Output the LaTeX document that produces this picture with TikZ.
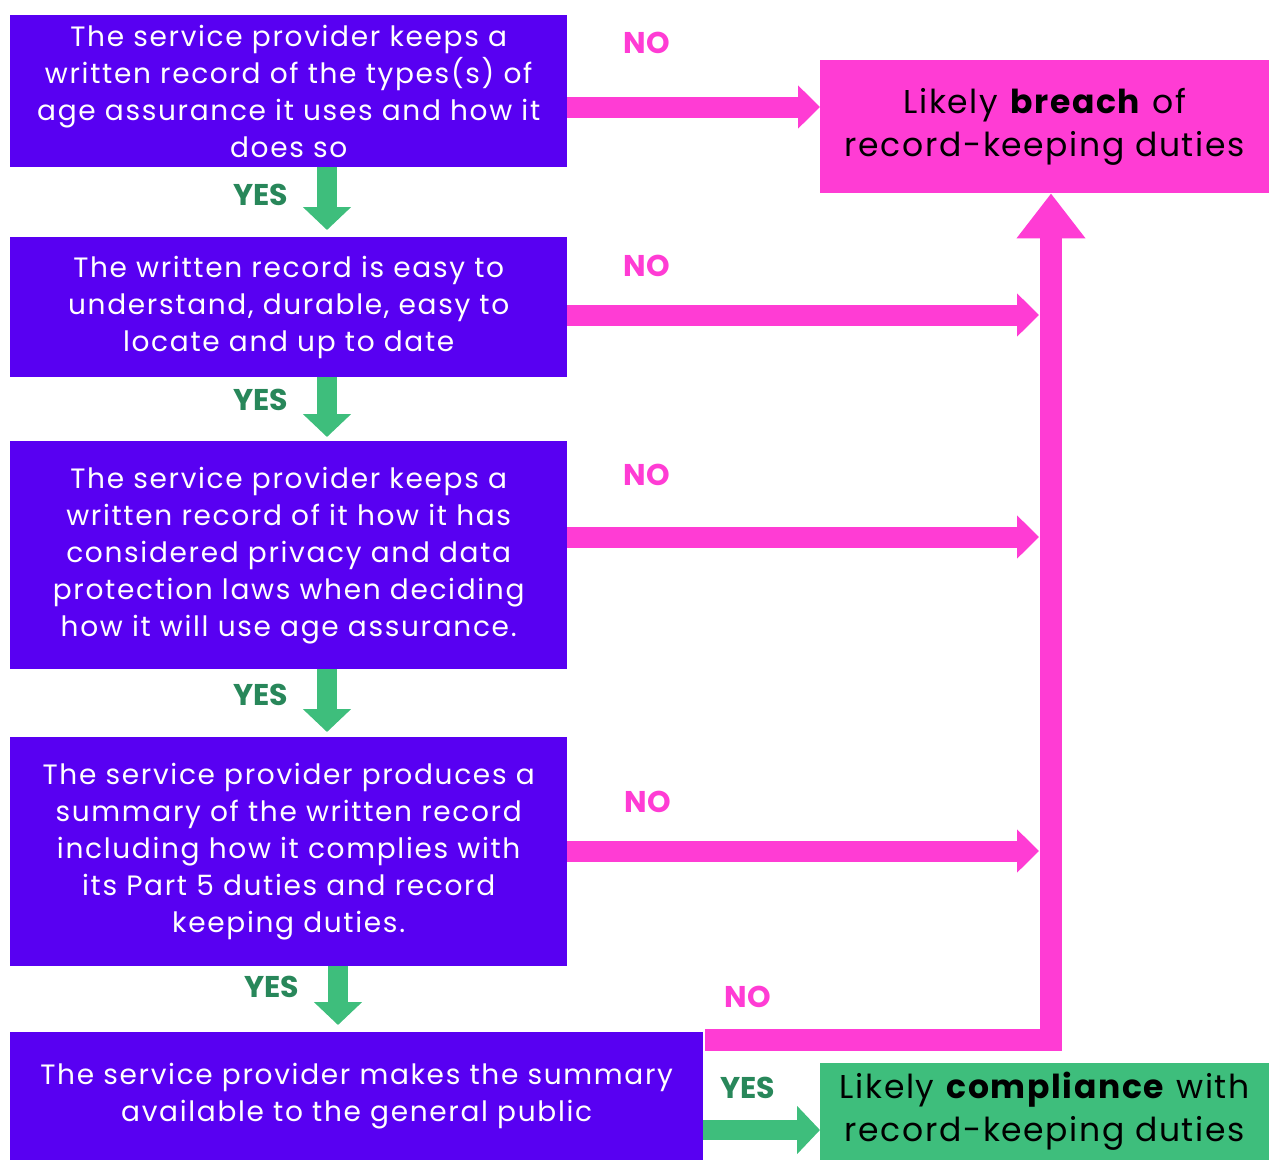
\documentclass[tikz,border=0pt]{standalone}
\usepackage{fontspec}
\setmainfont{Poppins}
\usetikzlibrary{arrows.meta}
\definecolor{qpurple}{RGB}{88,0,242}
\definecolor{qpink}{RGB}{255,60,212}
\definecolor{qgreen}{RGB}{62,190,124}
\definecolor{qdgreen}{RGB}{40,135,90}
\begin{document}
\begin{tikzpicture}[x=1pt,y=-1pt,
  qbox/.style={fill=qpurple, text=white, inner sep=0pt, align=center, anchor=north west,
     font=\fontsize{28}{37}\selectfont\addfontfeatures{LetterSpace=6}},
  endbox/.style={inner sep=0pt, align=center, anchor=north west, text=black,
     font=\fontsize{33}{43}\selectfont\addfontfeatures{LetterSpace=5}},
  nolab/.style={text=qpink, font=\fontsize{30}{30}\selectfont\bfseries},
  yeslab/.style={text=qdgreen, font=\fontsize{30}{30}\selectfont\bfseries},
  noarrow/.style={draw=qpink, line width=21pt, -{Triangle[length=22pt,width=42pt]}},
  uparrow/.style={draw=qpink, line width=22pt, line join=miter, -{Triangle[length=45pt,width=66pt]}},
  yesarrow/.style={draw=qgreen, line width=20pt, -{Triangle[length=23pt,width=47pt]}},
]
\useasboundingbox (0,0) rectangle (1269,1160);
% boxes
\node[qbox, minimum width=557pt, minimum height=152pt] (b1) at (10,15)
  {The service provider keeps a\\written record of the types(s) of\\age assurance it uses and how it\\does so};
\node[qbox, minimum width=557pt, minimum height=140pt] (b2) at (10,237)
  {The written record is easy to\\understand, durable, easy to\\locate and up to date};
\node[qbox, minimum width=557pt, minimum height=228pt] (b3) at (10,441)
  {The service provider keeps a\\written record of it how it has\\considered privacy and data\\protection laws when deciding\\how it will use age assurance.};
\node[qbox, minimum width=557pt, minimum height=229pt] (b4) at (10,737)
  {The service provider produces a\\summary of the written record\\including how it complies with\\its Part 5 duties and record\\keeping duties.};
\node[qbox, minimum width=693pt, minimum height=128pt] (b5) at (10,1032)
  {The service provider makes the summary\\available to the general public};
\node[endbox, fill=qpink, minimum width=449pt, minimum height=133pt] (breach) at (820,60)
  {Likely \textbf{breach} of\\record-keeping duties};
\node[endbox, fill=qgreen, minimum width=449pt, minimum height=97pt] (comply) at (820,1063)
  {Likely \textbf{compliance} with\\record-keeping duties};
% labels
\node[nolab] (n1) at (647,43) {NO};
\node[nolab] (n2) at (647,266) {NO};
\node[nolab] (n3) at (647,475) {NO};
\node[nolab] (n4) at (648,802) {NO};
\node[nolab] (n5) at (748,997) {NO};
\node[yeslab] (y1) at (261,195) {YES};
\node[yeslab] (y2) at (261,400) {YES};
\node[yeslab] (y3) at (261,695) {YES};
\node[yeslab] (y4) at (272,987) {YES};
\node[yeslab] (y5) at (748,1088) {YES};
% spine
\coordinate (corner) at (1051,1040);
\coordinate (spine) at (1039,0);
\draw[uparrow] (b5.north east |- 0,1040) ++(2,0) -- (corner) -- (corner |- breach.south);
% NO arrows
\draw[noarrow] (b1.east |- 0,107) -- (breach.west |- 0,107);
\draw[noarrow] (b2.east |- 0,315) -- (spine |- 0,315);
\draw[noarrow] (b3.east |- 0,537) -- (spine |- 0,537);
\draw[noarrow] (b4.east |- 0,851) -- (spine |- 0,851);
% YES arrows
\draw[yesarrow] (b1.south -| 327,0) -- ([yshift=7pt]b2.north -| 327,0);
\draw[yesarrow] (b2.south -| 327,0) -- ([yshift=4pt]b3.north -| 327,0);
\draw[yesarrow] (b3.south -| 327,0) -- ([yshift=5pt]b4.north -| 327,0);
\draw[yesarrow] (b4.south -| 338,0) -- ([yshift=7pt]b5.north -| 338,0);
\draw[yesarrow] (b5.east |- 0,1130) -- (comply.west |- 0,1130);
\end{tikzpicture}
\end{document}
